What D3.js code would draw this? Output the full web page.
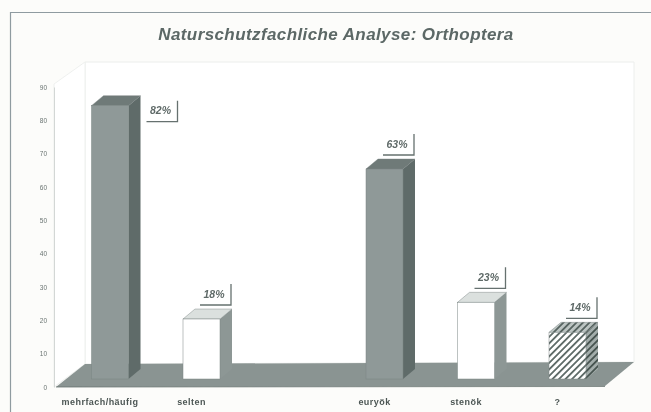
<!DOCTYPE html>
<html><head><meta charset="utf-8">
<script src="https://cdn.jsdelivr.net/npm/d3@7"></script>
<style>html,body{margin:0;padding:0;background:#fcfcfa;overflow:hidden}svg{display:block;filter:blur(.75px)}text{font-family:"Liberation Sans",Arial,sans-serif}</style>
</head><body><svg id="c" width="651" height="412"></svg>
<script>
const categories=["mehrfach/häufig","selten","","euryök","stenök","?"];
const values=[82,18,null,63,23,14];
const barStyles=["grey","white",null,"grey","white","hatch"];
const labelText=["82%","18%",null,"63%","23%","14%"];
const yTicks=[0,10,20,30,40,50,60,70,80,90];
const titleText="Naturschutzfachliche Analyse: Orthoptera";

const svg=d3.select("#c");
const defs=svg.append("defs");
function hatch(id,bg,fg){
  const p=defs.append("pattern").attr("id",id).attr("width",4.6).attr("height",4.6)
    .attr("patternUnits","userSpaceOnUse").attr("patternTransform","rotate(45)");
  p.append("rect").attr("width",4.6).attr("height",4.6).attr("fill",bg);
  p.append("rect").attr("width",1.8).attr("height",4.6).attr("fill",fg);
}
hatch("h1","#fff","#5c6966");hatch("h2","#a3adab","#46534f");hatch("h3","#bcc4c2","#55625f");

const x=d3.scalePoint().domain(d3.range(categories.length)).range([110,567.5]);
const yFront=d3.scaleLinear().domain([0,90]).range([387,87]);   // axis, on the front edge of the floor
const base=379, unit=(yFront(0)-yFront(10))/10;
const barH=v=>v*unit, bw=37, dx=12, dy=10;
const pts=a=>a.map(p=>p.join(",")).join(" ");

svg.append("path").attr("d","M10.5,412V12.5H651").attr("fill","none").attr("stroke","#8f9ba0").attr("stroke-width",1.2);

// walls
svg.append("polygon").attr("points",pts([[85,62],[634,62],[634,362],[85,364]])).attr("fill","#fff").attr("stroke","#eceeec");
svg.append("polygon").attr("points",pts([[54,84],[85,62],[85,364],[54,387]])).attr("fill","#fff").attr("stroke","#eef0ee");
// floor
svg.append("polygon").attr("points",pts([[56,387],[85,364],[634,362],[605,386]])).attr("fill","#8a9492");
svg.append("line").attr("x1",56).attr("x2",605).attr("y1",387).attr("y2",386.5).attr("stroke","#66716f").attr("stroke-width",.8);

// y axis
const ax=svg.append("g").attr("transform","translate(54,0)")
  .call(d3.axisLeft(yFront).tickValues(yTicks).tickSize(0).tickPadding(7));
ax.select(".domain").attr("stroke","#d3d7d5");
ax.selectAll("text").attr("font-size",6.5).attr("fill","#6a7472").attr("font-family","Liberation Sans");

// bars
const data=values.map((v,i)=>({v,i})).filter(d=>d.v!=null);
const g=svg.selectAll("g.bar").data(data).join("g").attr("class","bar");
const front={grey:"#8f9998",white:"#ffffff",hatch:"url(#h1)"};
const side={grey:"#5f6b69",white:"#8d9795",hatch:"url(#h2)"};
const top_={grey:"#6f7a78",white:"#dbe0de",hatch:"url(#h3)"};
g.append("polygon").attr("points",d=>{const l=x(d.i)-bw/2,r=l+bw,t=base-barH(d.v);
  return pts([[r,t],[r+dx,t-dy],[r+dx,base-dy],[r,base]]);}).attr("fill",d=>side[barStyles[d.i]]);
g.append("polygon").attr("points",d=>{const l=x(d.i)-bw/2,r=l+bw,t=base-barH(d.v);
  return pts([[l,t],[l+dx,t-dy],[r+dx,t-dy],[r,t]]);}).attr("fill",d=>top_[barStyles[d.i]]).attr("stroke","#6f7a78").attr("stroke-width",.4);
g.append("rect").attr("x",d=>x(d.i)-bw/2).attr("y",d=>base-barH(d.v)).attr("width",bw).attr("height",d=>barH(d.v))
  .attr("fill",d=>front[barStyles[d.i]]).attr("stroke","#7b8583").attr("stroke-width",.5);

// value labels: the first sits beside its bar, the rest above
const lw=31,lh=21;
const lab=svg.selectAll("g.lab").data(data).join("g").attr("class","lab")
  .attr("transform",d=>{const r=x(d.i)+bw/2,t=base-barH(d.v);
    return d.i===0?`translate(${r+18},${t-5})`:`translate(${r+dx-lw-1},${t-dy-4-lh})`;});
lab.append("path").attr("d",`M0,${lh}H${lw}V0`).attr("fill","none").attr("stroke","#66716f").attr("stroke-width",1.3);
lab.append("text").attr("x",lw-17).attr("y",lh-7.5).attr("text-anchor","middle")
  .attr("font-size",10.5).attr("font-style","italic").attr("font-weight","bold").attr("fill","#5f6a68").text(d=>labelText[d.i]);

// category labels
svg.selectAll("text.cat").data(categories).join("text").attr("class","cat")
  .attr("x",(d,i)=>x(i)-10).attr("y",404.5).attr("text-anchor","middle")
  .attr("font-size",9).attr("letter-spacing",.45).attr("fill","#4c5654").attr("font-weight","bold").text(d=>d);

svg.append("text").attr("x",336).attr("y",40).attr("text-anchor","middle").attr("font-size",17)
  .attr("letter-spacing",.4).attr("font-style","italic").attr("fill","#5c6866").attr("font-weight","bold").text(titleText);
</script></body></html>
